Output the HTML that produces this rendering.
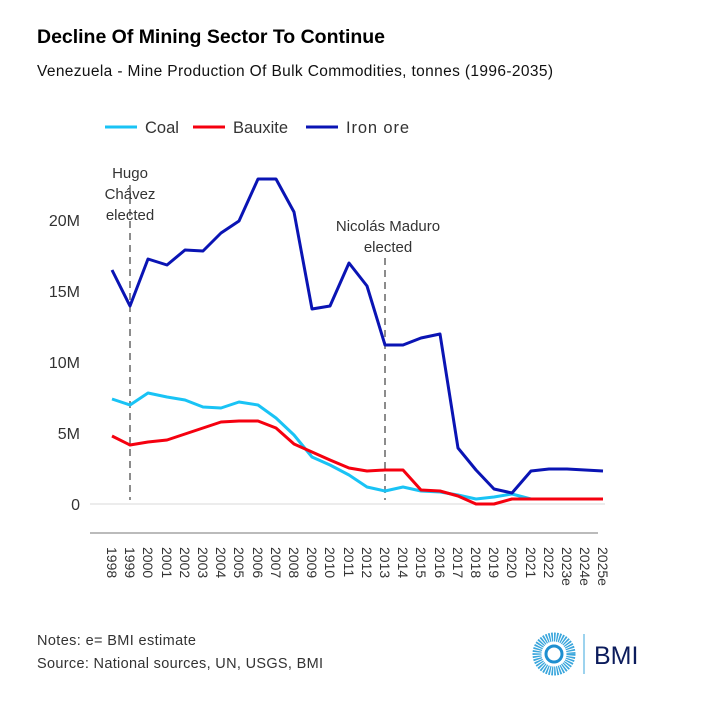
<!DOCTYPE html>
<html><head><meta charset="utf-8"><style>
body{margin:0;background:#fff;font-family:"Liberation Sans",sans-serif;}
</style></head><body>
<svg width="711" height="701" xmlns="http://www.w3.org/2000/svg" font-family="Liberation Sans, sans-serif">
<rect width="711" height="701" fill="#fff"/>
<text x="37" y="43" font-size="19.5" font-weight="bold" fill="#000" textLength="348">Decline Of Mining Sector To Continue</text>
<text x="37" y="76" font-size="15.5" fill="#111" textLength="516">Venezuela - Mine Production Of Bulk Commodities, tonnes (1996-2035)</text>
<g font-size="16.5" fill="#333">
<line x1="105" y1="127" x2="137" y2="127" stroke="#19c3f5" stroke-width="3"/><text x="145" y="133">Coal</text>
<line x1="193" y1="127" x2="225" y2="127" stroke="#f5000f" stroke-width="3"/><text x="233" y="133">Bauxite</text>
<line x1="306" y1="127" x2="338" y2="127" stroke="#0a14b4" stroke-width="3"/><text x="346" y="133" textLength="63">Iron ore</text>
</g>
<g font-size="16" fill="#333" text-anchor="end">
<text x="80" y="226">20M</text><text x="80" y="297">15M</text><text x="80" y="368">10M</text><text x="80" y="439">5M</text><text x="80" y="510">0</text>
</g>
<line x1="90" y1="504" x2="605" y2="504" stroke="#e6e6e6" stroke-width="1.5"/>
<line x1="90" y1="533" x2="598" y2="533" stroke="#777" stroke-width="1"/>
<line x1="130" y1="185" x2="130" y2="500" stroke="#666" stroke-width="1.5" stroke-dasharray="7,5"/>
<line x1="385" y1="258" x2="385" y2="500" stroke="#666" stroke-width="1.5" stroke-dasharray="7,5"/>
<g font-size="15" fill="#333" text-anchor="middle">
<text x="130" y="178">Hugo</text><text x="130" y="199">Chávez</text><text x="130" y="220">elected</text>
<text x="388" y="231">Nicolás Maduro</text><text x="388" y="252">elected</text>
</g>
<g fill="none" stroke-width="3" stroke-linejoin="round">
<polyline stroke="#19c3f5" points="112,399 130,405 148,393 167,397 185,400 203,407 221,408 239,402 258,405 276,418 294,435 312,457 330,465 349,475 367,487 385,491 403,487 421,491 440,492 458,495 476,499 494,497 512,494 531,499 549,499 567,499 585,499 603,499"/>
<polyline stroke="#f5000f" points="112,436 130,445 148,442 167,440 185,434 203,428 221,422 239,421 258,421 276,428 294,444 312,452 330,460 349,468 367,471 385,470 403,470 421,490 440,491 458,496 476,504 494,504 512,499 531,499 549,499 567,499 585,499 603,499"/>
<polyline stroke="#0a14b4" points="112,270 130,306 148,259 167,265 185,250 203,251 221,233 239,221 258,179 276,179 294,212 312,309 330,306 349,263 367,286 385,345 403,345 421,338 440,334 458,448 476,470 494,489 512,493 531,471 549,469 567,469 585,470 603,471"/>
</g>
<g font-size="14" fill="#333">
<text transform="translate(107,547) rotate(90)">1998</text><text transform="translate(125,547) rotate(90)">1999</text><text transform="translate(143,547) rotate(90)">2000</text><text transform="translate(162,547) rotate(90)">2001</text><text transform="translate(180,547) rotate(90)">2002</text><text transform="translate(198,547) rotate(90)">2003</text><text transform="translate(216,547) rotate(90)">2004</text><text transform="translate(234,547) rotate(90)">2005</text><text transform="translate(253,547) rotate(90)">2006</text><text transform="translate(271,547) rotate(90)">2007</text><text transform="translate(289,547) rotate(90)">2008</text><text transform="translate(307,547) rotate(90)">2009</text><text transform="translate(325,547) rotate(90)">2010</text><text transform="translate(344,547) rotate(90)">2011</text><text transform="translate(362,547) rotate(90)">2012</text><text transform="translate(380,547) rotate(90)">2013</text><text transform="translate(398,547) rotate(90)">2014</text><text transform="translate(416,547) rotate(90)">2015</text><text transform="translate(435,547) rotate(90)">2016</text><text transform="translate(453,547) rotate(90)">2017</text><text transform="translate(471,547) rotate(90)">2018</text><text transform="translate(489,547) rotate(90)">2019</text><text transform="translate(507,547) rotate(90)">2020</text><text transform="translate(526,547) rotate(90)">2021</text><text transform="translate(544,547) rotate(90)">2022</text><text transform="translate(562,547) rotate(90)">2023e</text><text transform="translate(580,547) rotate(90)">2024e</text><text transform="translate(598,547) rotate(90)">2025e</text>
</g>
<text x="37" y="645" font-size="14.5" fill="#333" textLength="159">Notes: e= BMI estimate</text>
<text x="37" y="668" font-size="14.5" fill="#333" textLength="286">Source: National sources, UN, USGS, BMI</text>
<circle cx="554" cy="654" r="17" fill="none" stroke="#3aa6dc" stroke-width="9" stroke-dasharray="1.5,1"/>
<circle cx="554" cy="654" r="8" fill="none" stroke="#1e8fd0" stroke-width="3"/>
<line x1="584" y1="634" x2="584" y2="674" stroke="#7cc4e8" stroke-width="1.5"/>
<text x="594" y="664" font-size="25" fill="#0c1c5c">BMI</text>
</svg>
</body></html>
